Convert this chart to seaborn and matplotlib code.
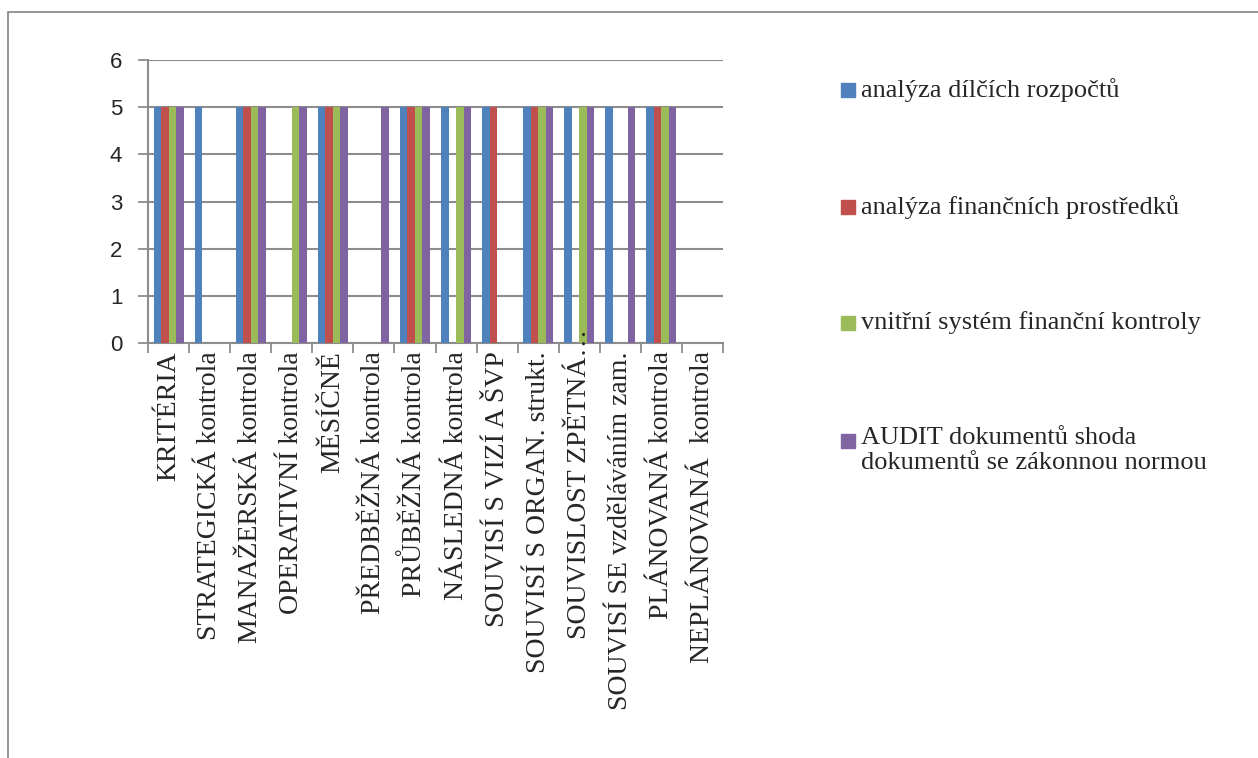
import matplotlib
matplotlib.use("Agg")
import matplotlib.pyplot as plt
from matplotlib.patches import Rectangle
from matplotlib.transforms import ScaledTranslation
import numpy as np
import pandas as pd
import seaborn as sns

categories = [
    "KRITÉRIA",
    "STRATEGICKÁ kontrola",
    "MANAŽERSKÁ kontrola",
    "OPERATIVNÍ kontrola",
    "MĚSÍČNĚ",
    "PŘEDBĚŽNÁ kontrola",
    "PRŮBĚŽNÁ kontrola",
    "NÁSLEDNÁ kontrola",
    "SOUVISÍ S VIZÍ A ŠVP",
    "SOUVISÍ S ORGAN. strukt.",
    "SOUVISLOST ZPĚTNÁ…",
    "SOUVISÍ SE vzděláváním zam.",
    "PLÁNOVANÁ kontrola",
    "NEPLÁNOVANÁ  kontrola",
]

series = [
    "analýza dílčích rozpočtů",
    "analýza finančních prostředků",
    "vnitřní systém finanční kontroly",
    "AUDIT dokumentů shoda\ndokumentů se zákonnou normou",
]

rozpocty    = [5, 5, 5, 0, 5, 0, 5, 5, 5, 5, 5, 5, 5, 0]
prostredky  = [5, 0, 5, 0, 5, 0, 5, 0, 5, 5, 0, 0, 5, 0]
vnitrni     = [5, 0, 5, 5, 5, 0, 5, 5, 0, 5, 5, 0, 5, 0]
audit       = [5, 0, 5, 5, 5, 5, 5, 5, 0, 5, 5, 5, 5, 0]

colors = ["#4F81BD", "#C0504D", "#9BBB59", "#8064A2"]
yticks = [0, 1, 2, 3, 4, 5, 6]

df = pd.DataFrame({
    "kategorie": categories * 4,
    "serie": np.repeat(series, len(categories)),
    "hodnota": rozpocty + prostredky + vnitrni + audit,
})

sns.set_style("white")
plt.rcParams["font.family"] = ["Liberation Serif", "DejaVu Serif"]

W, H = 1258, 758
fig = plt.figure(figsize=(W / 100, H / 100), dpi=100)
ax = fig.add_axes([148 / W, 1 - 343 / H, (723 - 148) / W, (343 - 60) / H])

sns.barplot(data=df, x="kategorie", y="hodnota", hue="serie",
            order=categories, hue_order=series, palette=colors,
            width=0.73, gap=0, saturation=1, legend=False, ax=ax,
            linewidth=0, zorder=3)

grid_c = "#8c8c8c"
ax.set_ylim(0, 6)
ax.set_xlim(-0.5, len(categories) - 0.5)
ax.set_yticks(yticks)
ax.set_yticklabels([str(t) for t in yticks], family="Liberation Sans", fontsize=16)
ax.yaxis.grid(True, color=grid_c, linewidth=1.5, zorder=0)
ax.set_axisbelow(True)
ax.xaxis.set_zorder(4)
ax.tick_params(axis="y", length=7, width=1.3, color=grid_c, pad=11.5, left=True)

ax.set_xticks(range(len(categories)))
ax.set_xticklabels(categories, rotation=90, fontsize=20)
ax.set_xticks(np.arange(-0.5, len(categories)), minor=True)
ax.tick_params(axis="x", which="major", length=0, pad=6)
ax.tick_params(axis="x", which="minor", length=7, width=1.3, color=grid_c, bottom=True)

# the truncated label lets its ellipsis run up over the axis line
for lbl in ax.get_xticklabels():
    if lbl.get_text().endswith("…"):
        lbl.set_transform(lbl.get_transform() + ScaledTranslation(0, 22 / 100, fig.dpi_scale_trans))

for side in ["top", "right"]:
    ax.spines[side].set_visible(False)
for side in ["left", "bottom"]:
    ax.spines[side].set_color(grid_c)
    ax.spines[side].set_linewidth(1.5)
ax.set_xlabel("")
ax.set_ylabel("")

# legend: coloured squares with series names to the right of the plot
leg_y = [90, 207, 323, 441]
for name, col, y in zip(series, colors, leg_y):
    fig.patches.append(Rectangle((841 / W, 1 - (y + 7) / H), 14 / W, 14 / H,
                                 transform=fig.transFigure, color=col))
    if "\n" in name:
        fig.text(861 / W, 1 - (y - 14) / H, name, fontsize=19, va="top", ha="left",
                 linespacing=1.2)
    else:
        fig.text(861 / W, 1 - y / H, name, fontsize=19, va="center", ha="left")

# outer chart frame
fig.patches.append(Rectangle((8 / W, -0.1), 1.2, 1 - 12 / H + 0.1,
                             transform=fig.transFigure, fill=False,
                             edgecolor="#8c8c8c", linewidth=1.3))

fig.savefig("out.png", dpi=100)
